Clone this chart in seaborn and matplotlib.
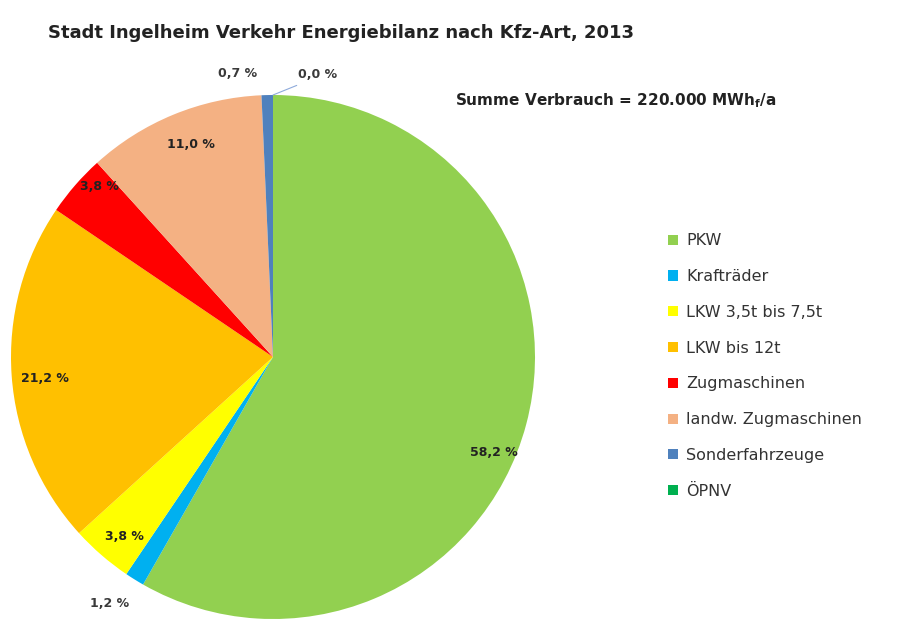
import numpy as np
import matplotlib.pyplot as plt
import seaborn as sns

# Data
categories = ["PKW", "Krafträder", "LKW 3,5t bis 7,5t", "LKW bis 12t", "Zugmaschinen",
              "landw. Zugmaschinen", "Sonderfahrzeuge", "ÖPNV"]
shares = [58.2, 1.2, 3.8, 21.2, 3.8, 11.0, 0.7, 0.0]
colors = ["#92D050", "#00B0F0", "#FFFF00", "#FFC000", "#FF0000", "#F4B183", "#4F81BD", "#00B050"]

# label placement (radius factor, angle shift in degrees)
label_r = [0.92, 1.13, 0.89, 0.875, 0.93, 0.87, 1.09, 1.09]
label_shift = [-8.6, -1.6, 1.3, 1.4, -3.5, -1.3, 5.8, -9.0]

sns.set_theme(style="white")
plt.rcParams['font.family'] = ['DejaVu Sans']

fig = plt.figure(figsize=(9.01, 6.19), dpi=100)
ax = fig.add_axes([11 / 901, 0.0, 524 / 901, 524 / 619])

wedges, _ = ax.pie(shares, colors=colors, startangle=90, counterclock=False,
                   radius=1.0, wedgeprops=dict(linewidth=0))
ax.set_xlim(-1, 1)
ax.set_ylim(-1, 1)
ax.set_aspect("equal")
ax.axis("off")

for i, w in enumerate(wedges):
    mid = np.deg2rad((w.theta1 + w.theta2) / 2 + label_shift[i])
    r = label_r[i]
    x, y = r * np.cos(mid), r * np.sin(mid)
    txt = f"{shares[i]:.1f} %".replace(".", ",")
    ax.text(x, y, txt, ha="center", va="center", fontsize=9, fontweight="bold",
            color="#3a3a3a" if r > 1 else "#222222", clip_on=False)
    if shares[i] == 0:
        mx, my = np.cos(np.deg2rad(w.theta1)), np.sin(np.deg2rad(w.theta1))
        ax.plot([mx, x - 0.08], [my, y - 0.04], color="#8eaadb", lw=0.8, clip_on=False)

fig.text(48 / 901, 1 - 33 / 619, "Stadt Ingelheim Verkehr Energiebilanz nach Kfz-Art, 2013",
         fontsize=13, fontweight="bold", color="#222222", va="center", ha="left")
fig.text(455 / 901, 1 - 101 / 619, "Summe Verbrauch = 220.000 MWh$_\\mathbf{f}$/a",
         fontsize=11, fontweight="bold", color="#222222", va="center", ha="left")

leg = fig.legend(wedges, categories, loc="upper left", bbox_to_anchor=(662 / 901, 1 - 227 / 619),
                 frameon=False, fontsize=11.5, handlelength=0.6, handleheight=0.6,
                 handletextpad=0.5, labelspacing=1.3, borderaxespad=0)
for t in leg.get_texts():
    t.set_color("#333333")

fig.savefig("out.png", dpi=100, facecolor="white")
